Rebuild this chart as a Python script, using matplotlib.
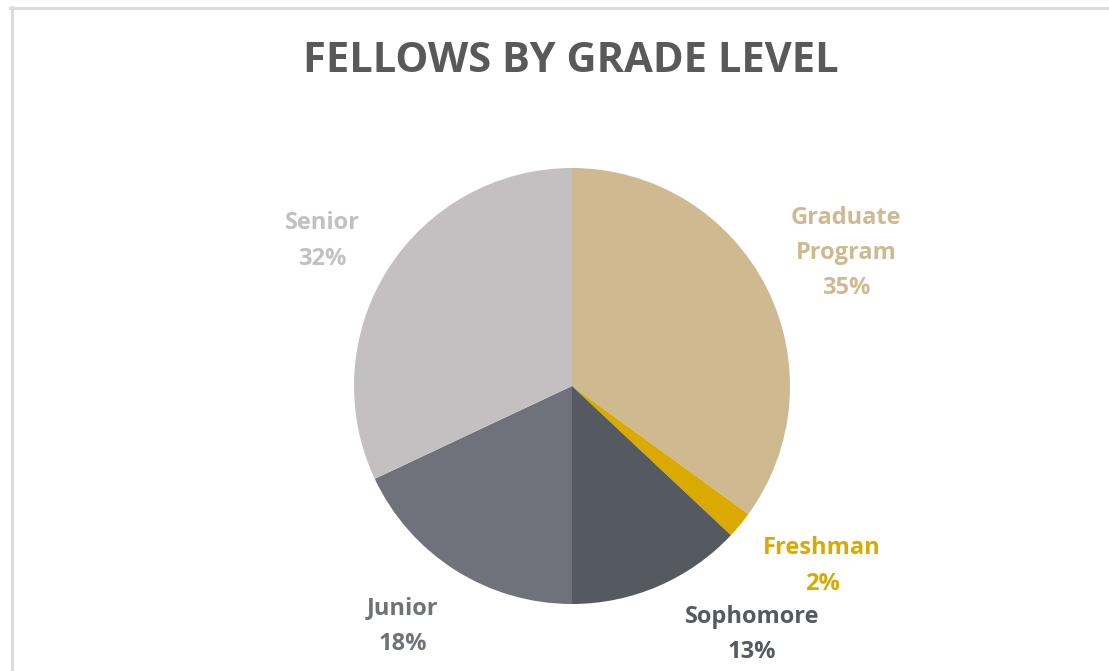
import matplotlib.pyplot as plt
from matplotlib.lines import Line2D

plt.rcParams['font.family'] = ['Open Sans', 'DejaVu Sans']

# data
categories = ['Graduate\nProgram', 'Freshman', 'Sophomore', 'Junior', 'Senior']
shares = [35, 2, 13, 18, 32]
colors = ['#CFB991', '#DAAA00', '#555960', '#6F727B', '#C4BFC0']

W, H = 1109, 671
fig = plt.figure(figsize=(W / 100, H / 100), dpi=100, facecolor='white')

# frame of the chart area (light gray, cut off at right/bottom)
fig.add_artist(Line2D([10 / W, 1], [1 - 7.5 / H, 1 - 7.5 / H], color='#DCDCDC', lw=2.2))
fig.add_artist(Line2D([11.5 / W, 11.5 / W], [0, 1 - 6.5 / H], color='#DCDCDC', lw=2.2))

# pie axes: centre (572, 386), radius 218 px
cx, cy, r = 572, 386, 218
ax = fig.add_axes([(cx - r) / W, 1 - (cy + r) / H, 2 * r / W, 2 * r / H])
wedges, _ = ax.pie(shares, colors=colors, startangle=90, counterclock=False,
                   radius=1.0, wedgeprops=dict(linewidth=0))
ax.set_xlim(-1, 1)
ax.set_ylim(-1, 1)
ax.set_aspect('equal')
ax.axis('off')

# label positions in radius units relative to the centre
label_pos = [(1.257, 0.61), (1.147, -0.826), (0.826, -1.138), (-0.775, -1.101), (-1.147, 0.665)]
for name, val, col, (lx, ly) in zip(categories, shares, colors, label_pos):
    ax.text(lx, ly, f'{name}\n{val}%', color=col, ha='center', va='center',
            fontsize=17, fontweight='bold', linespacing=1.62, clip_on=False)

fig.text(571 / W, 1 - 62 / H, 'FELLOWS BY GRADE LEVEL', ha='center', va='center',
         fontsize=30, fontweight='bold', color='#595959')

fig.savefig('out.png', dpi=100, facecolor='white')
